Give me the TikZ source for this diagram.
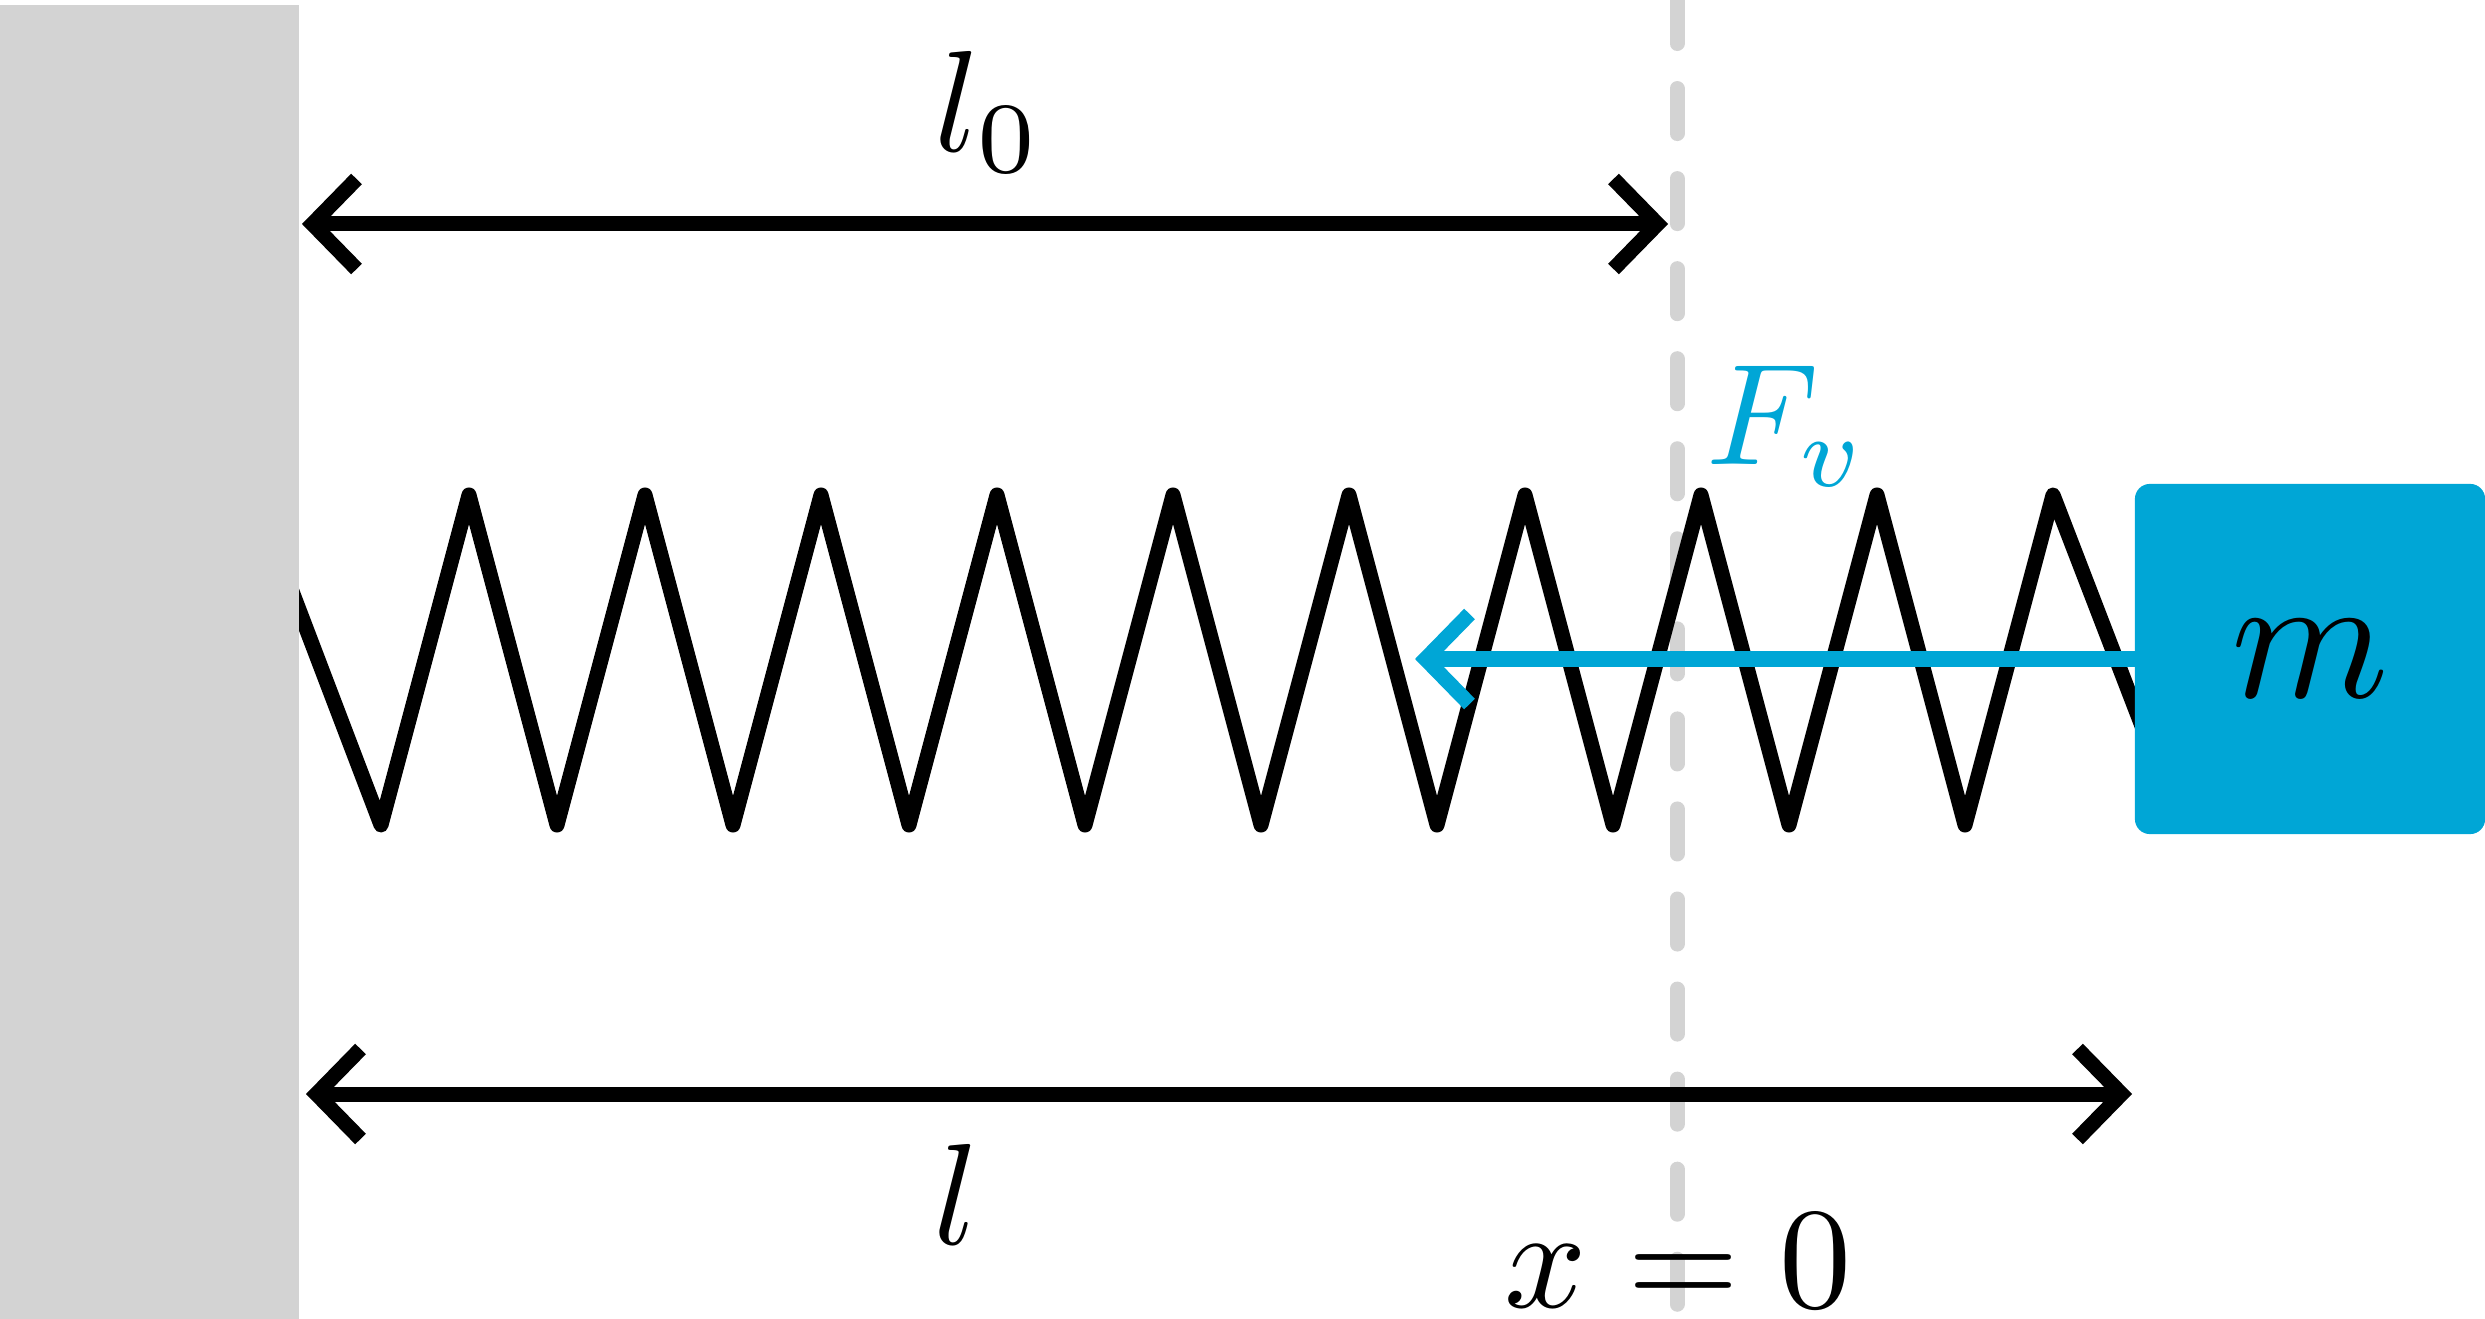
\documentclass[tikz,border=0pt]{standalone}
\usetikzlibrary{arrows.meta}
\definecolor{wallgray}{HTML}{D3D3D3}
\definecolor{massblue}{HTML}{00A6D6}
\tikzset{
  barb/.style={{Straight Barb[length=4.4mm,width=9.0mm]}-{Straight Barb[length=4.4mm,width=9.0mm]}},
  label/.style={scale=4.1,inner sep=0pt},
}
\begin{document}
\begin{tikzpicture}[x=0.01cm,y=-0.01cm,line width=1.5mm]
      \useasboundingbox (0,0) rectangle (2485,1319);
      \draw[wallgray,line cap=round,dash pattern=on 0.45cm off 0.45cm]
        (1677,-1.5) to (1677,1319);
      \draw[line join=round]
        (258,502) -- (381,825) -- (469,495) -- (557,825) -- (645,495) -- (733,825)
        -- (821,495) -- (909,825) -- (997,495) -- (1085,825) -- (1173,495) -- (1261,825)
        -- (1349,495) -- (1437,825) -- (1525,495) -- (1613,825) -- (1701,495) -- (1789,825)
        -- (1877,495) -- (1965,825) -- (2053,495) -- (2177,817);
      \fill[wallgray] (0,5) rectangle (299,1319);
      \draw
        (2310,659) node[fill=massblue,rounded corners=0.15cm,minimum width=3.5cm,minimum height=3.5cm,inner sep=0pt,outer sep=0pt] (block){\scalebox{5.1}{$m$}}
        (1415,659) coordinate (forcetip)
        (302,224) coordinate (lzeroleft)
        (1668,224) coordinate (lzeroright)
        (306,1094) coordinate (lleft)
        (2132,1094) coordinate (lright)
        (988,112) node[label] (lzero){$l_0$}
        (956,1194) node[label] (lbottom){$l$}
        (1678,1261) node[label] (xzero){$x=0$}
        (1787,426) node[label,text=massblue] (force){$F_v$};
      \draw[massblue,-{Straight Barb[length=4.4mm,width=9.0mm]}] (block.west) to (forcetip);
      \begin{scope}[barb]
        \draw (lzeroleft) to (lzeroright);
        \draw (lleft) to (lright);
      \end{scope}
    \end{tikzpicture}
\end{document}
